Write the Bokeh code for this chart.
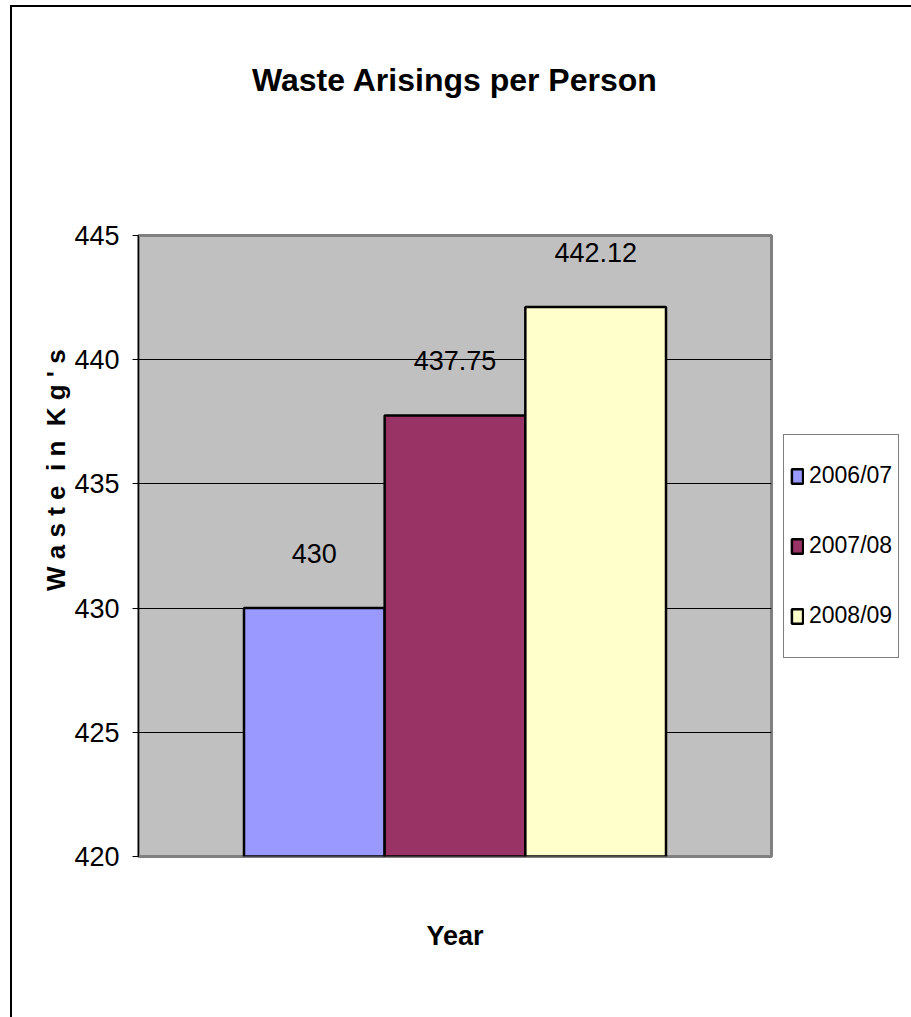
from bokeh.plotting import figure
from bokeh.models import Range1d, FixedTicker, Legend, LegendItem, ColumnDataSource, Title
from bokeh.core.properties import value
from bokeh.embed import file_html
from bokeh.resources import INLINE

# Data
years = ["2006/07", "2007/08", "2008/09"]
waste_kg = [430.0, 437.75, 442.12]
value_labels = ["430", "437.75", "442.12"]
bar_colors = ["#9999FF", "#993366", "#FFFFCC"]
y_ticks = [420, 425, 430, 435, 440, 445]

FONT = "Liberation Sans"
NB = "\u00a0"

# page geometry: the figure sits inside a chart border drawn on its left/top
OFF_X, OFF_Y = 12, 7          # margin + border width
W, H = 911 - OFF_X, 1017 - OFF_Y
FRAME_L, FRAME_R, FRAME_T, FRAME_B = 138 - OFF_X, 771 - OFF_X, 235 - OFF_Y, 856 - OFF_Y

# one clustered category: unit-width bars with a 150% gap split on both sides
gap = 1.5
xs = [gap / 2 + i + 0.5 for i in range(len(years))]

p = figure(frame_width=FRAME_R - FRAME_L, frame_height=FRAME_B - FRAME_T,
           output_backend="svg", toolbar_location=None,
           x_range=Range1d(0, len(years) + gap), y_range=Range1d(420, 445),
           min_border_left=FRAME_L, min_border_right=W - FRAME_R,
           min_border_top=FRAME_T, min_border_bottom=H - FRAME_B)
p.margin = (5, 0, 0, 10)
p.styles = {"border-left": "2px solid black", "border-top": "2px solid black"}
p.background_fill_color = "#C0C0C0"
p.border_fill_color = "white"
p.outline_line_color = "#808080"
p.outline_line_width = 3

# title, with an empty spacer title between it and the plot area
p.title.text = "Waste Arisings per Person"
p.title.align = "center"
p.title.text_font = FONT
p.title.text_font_style = "bold"
p.title.text_font_size = "32px"
p.title.text_color = "black"
p.add_layout(Title(text=NB, text_font_size="1px", standoff=130), "above")

# x axis: only the axis title is shown
xa = p.xaxis[0]
xa.ticker = FixedTicker(ticks=[])
xa.axis_line_color = None
xa.major_tick_line_color = None
xa.minor_tick_line_color = None
xa.axis_label = "Year"
xa.axis_label_text_font = FONT
xa.axis_label_text_font_style = "bold"
xa.axis_label_text_font_size = "27px"
xa.axis_label_text_color = "black"
xa.axis_label_standoff = 64

# y axis
ya = p.yaxis[0]
ya.ticker = FixedTicker(ticks=y_ticks)
ya.axis_line_color = "black"
ya.axis_line_width = 1
ya.major_tick_line_color = "black"
ya.major_tick_out = 6
ya.major_tick_in = 0
ya.minor_tick_line_color = None
ya.major_label_standoff = 13
ya.major_label_text_font = FONT
ya.major_label_text_font_size = "27px"
ya.major_label_text_color = "black"
ya.axis_label = NB * 21 + "W a s t e" + NB * 2 + "i n" + NB * 2 + "K g ' s"
ya.axis_label_text_font = FONT
ya.axis_label_text_font_style = "bold"
ya.axis_label_text_font_size = "26px"
ya.axis_label_text_color = "black"
ya.axis_label_standoff = 0

p.xgrid.visible = False
p.ygrid.ticker = FixedTicker(ticks=y_ticks)
p.ygrid.grid_line_color = "black"
p.ygrid.grid_line_width = 1

src = ColumnDataSource(dict(x=xs, top=waste_kg, label=value_labels))

renderers = []
for i in range(len(years)):
    r = p.vbar(x=[xs[i]], top=[waste_kg[i]], bottom=420, width=1.0,
               fill_color=bar_colors[i], line_color="black", line_width=2.5)
    renderers.append(r)

# value labels above the bars
p.text(x="x", y="top", text="label", source=src, text_font=value(FONT),
       text_font_size="27px", text_align="center", text_baseline="middle",
       y_offset=-55, text_color="black")

# legend in the right-hand panel
legend = Legend(items=[LegendItem(label=years[i], renderers=[renderers[i]])
                       for i in range(len(years))],
                location="center_left")
legend.border_line_color = "black"
legend.border_line_width = 1
legend.background_fill_color = "white"
legend.background_fill_alpha = 1
legend.padding = 6
legend.margin = 12
legend.spacing = 0
legend.label_height = 70
legend.glyph_height = 18
legend.glyph_width = 14
legend.label_standoff = 5
legend.label_text_font = FONT
legend.label_text_font_size = "23px"
legend.label_text_baseline = "middle"
legend.label_text_color = "black"
p.add_layout(legend, "right")

open("out.html", "w").write(file_html(p, INLINE))
